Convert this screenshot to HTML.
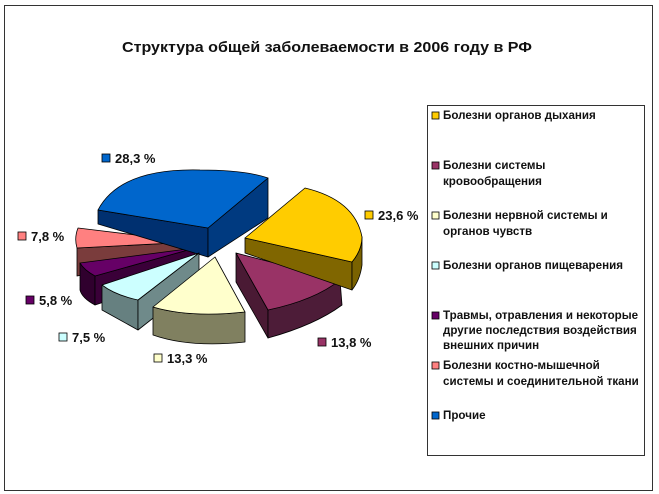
<!DOCTYPE html>
<html><head><meta charset="utf-8"><style>
body{margin:0;background:#fff}
svg{display:block}
text{font-family:"Liberation Sans","DejaVu Sans",sans-serif;font-weight:bold;fill:#111}
</style></head><body>
<svg width="659" height="494" viewBox="0 0 659 494">
<rect x="4.5" y="5.5" width="648" height="485" fill="#fff" stroke="#333" stroke-width="1"/>
<text x="327" y="52" font-size="15" text-anchor="middle" textLength="410" lengthAdjust="spacingAndGlyphs">Структура общей заболеваемости в 2006 году в РФ</text>

<g stroke="#000" stroke-width="0.8" stroke-linejoin="round">
<path d="M77,248 L193,242 L193,256 L77,276 Z" fill="#7a3c3c"/>
<path d="M78,228 L193,242 L77,248 Q74,238 78,228 Z" fill="#ff8080"/>
<path d="M80,263 L95,276 L95,305 Q82,298 80,290 Z" fill="#30002e"/>
<path d="M95,276 L195,248 L195,272 L95,305 Z" fill="#3a0038"/>
<path d="M80,263 L195,248 L95,276 Q84,270 80,263 Z" fill="#660066"/>
<path d="M98,210 L208,228 L208,257 L98,224 Z" fill="#003070"/>
<path d="M208,228 L268,178 L268,218 L208,257 Z" fill="#003a80"/>
<path d="M98,210 Q120,168 200,170 Q245,170 268,178 L208,228 Z" fill="#0066cc"/>
<path d="M102,285 L138,300 L138,330 L102,310 Z" fill="#668080"/>
<path d="M138,300 L199,253 L199,282 L138,330 Z" fill="#6f8a8a"/>
<path d="M199,253 L102,285 Q115,295 138,300 Z" fill="#ccffff"/>
<path d="M153,307 Q190,318 245,312 L245,342 Q190,348 153,335 Z" fill="#808060"/>
<path d="M215,257 L153,307 Q190,318 245,312 Z" fill="#ffffcc"/>
<path d="M236,253 L268,310 L268,338 L236,282 Z" fill="#4a1a34"/>
<path d="M268,310 Q315,300 340,280 L342,305 Q315,325 268,338 Z" fill="#4d1c38"/>
<path d="M236,253 L340,280 Q315,300 268,310 Z" fill="#993366"/>
<path d="M245,238 L352,262 L352,290 L245,253 Z" fill="#806600"/>
<path d="M352,262 Q362,250 362,237 L362,265 Q360,280 352,290 Z" fill="#7a6200"/>
<path d="M245,238 L305,188 Q355,200 362,237 Q362,250 352,262 Z" fill="#ffcc00"/>
</g>

<g font-size="13">
<rect x="102" y="154" width="8" height="8" fill="#0066cc" stroke="#000" stroke-width="0.8"/><text x="115" y="163">28,3 %</text>
<rect x="365" y="211" width="8" height="8" fill="#ffcc00" stroke="#000" stroke-width="0.8"/><text x="378" y="220">23,6 %</text>
<rect x="318" y="338" width="8" height="8" fill="#993366" stroke="#000" stroke-width="0.8"/><text x="331" y="347">13,8 %</text>
<rect x="154" y="354" width="8" height="8" fill="#ffffcc" stroke="#000" stroke-width="0.8"/><text x="167" y="363">13,3 %</text>
<rect x="59" y="333" width="8" height="8" fill="#ccffff" stroke="#000" stroke-width="0.8"/><text x="72" y="342">7,5 %</text>
<rect x="26" y="296" width="8" height="8" fill="#660066" stroke="#000" stroke-width="0.8"/><text x="39" y="305">5,8 %</text>
<rect x="18" y="232" width="8" height="8" fill="#ff8080" stroke="#000" stroke-width="0.8"/><text x="31" y="241">7,8 %</text>
</g>

<rect x="427.5" y="105.5" width="217" height="350" fill="#fff" stroke="#333" stroke-width="1"/>
<g font-size="11.6">
<rect x="432" y="112" width="7" height="7" fill="#ffcc00" stroke="#000" stroke-width="0.8"/>
<text x="443" y="119">Болезни органов дыхания</text>
<rect x="432" y="162" width="7" height="7" fill="#993366" stroke="#000" stroke-width="0.8"/>
<text x="443" y="169">Болезни системы</text><text x="443" y="185">кровообращения</text>
<rect x="432" y="212" width="7" height="7" fill="#ffffcc" stroke="#000" stroke-width="0.8"/>
<text x="443" y="219">Болезни нервной системы и</text><text x="443" y="235">органов чувств</text>
<rect x="432" y="262" width="7" height="7" fill="#ccffff" stroke="#000" stroke-width="0.8"/>
<text x="443" y="269">Болезни органов пищеварения</text>
<rect x="432" y="312" width="7" height="7" fill="#660066" stroke="#000" stroke-width="0.8"/>
<text x="443" y="319">Травмы, отравления и некоторые</text><text x="443" y="334">другие последствия воздействия</text><text x="443" y="349">внешних причин</text>
<rect x="432" y="362" width="7" height="7" fill="#ff8080" stroke="#000" stroke-width="0.8"/>
<text x="443" y="369">Болезни костно-мышечной</text><text x="443" y="385">системы и соединительной ткани</text>
<rect x="432" y="412" width="7" height="7" fill="#0066cc" stroke="#000" stroke-width="0.8"/>
<text x="443" y="419">Прочие</text>
</g>
</svg>
</body></html>
